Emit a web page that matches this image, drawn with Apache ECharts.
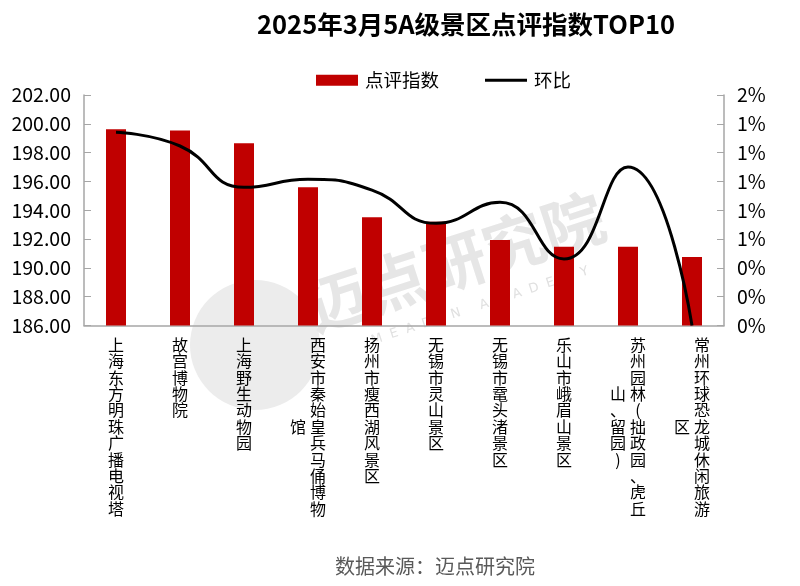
<!DOCTYPE html>
<html>
<head>
<meta charset="utf-8">
<script src="https://cdn.jsdelivr.net/npm/echarts@6/dist/echarts.min.js"></script>
<style>
html,body{margin:0;padding:0;background:#fff;}
#chart{width:800px;height:586px;}
</style>
</head>
<body>
<div id="chart"></div>
<script>
var categories = ['上海东方明珠广播电视塔','故宫博物院','上海野生动物园','西安市秦始皇兵马俑博物馆','扬州市瘦西湖风景区','无锡市灵山景区','无锡市鼋头渚景区','乐山市峨眉山景区','苏州园林(拙政园、虎丘山、留园)','常州环球恐龙城休闲旅游区'];
var indexValues = [199.62, 199.53, 198.65, 195.60, 193.51, 193.20, 191.94, 191.47, 191.47, 190.76];
var momValues = [0.01341, 0.01246, 0.00959, 0.01015, 0.00940, 0.00709, 0.00855, 0.00462, 0.01100, 0.00000];
var leftTicks = {min: 186, max: 202, interval: 2};
var rightTicks = {min: 0, max: 0.016, interval: 0.002};

var FONT = '"Noto Sans CJK SC", "Noto Sans", sans-serif';
var COL = 11;

function verticalLabel(name) {
  var chars = Array.from(name);
  var main = chars.slice(0, COL);
  var rest = chars.slice(COL);
  var off = Math.floor((main.length - rest.length) / 2);
  var rows = [];
  for (var i = 0; i < main.length; i++) {
    var row = '';
    if (rest.length) {
      var j = i - off;
      row += (j >= 0 && j < rest.length) ? '{c|' + rest[j] + '}' : '{c|\u3000}';
    }
    row += '{c|' + main[i] + '}';
    rows.push(row);
  }
  return rows.join('\n');
}

var chart = echarts.init(document.getElementById('chart'));
chart.setOption({
  animation: false,
  backgroundColor: '#fff',
  title: {
    text: '2025年3月5A级景区点评指数TOP10',
    left: 461, top: 7, textAlign: 'center',
    textStyle: {fontFamily: FONT, fontSize: 25.5, fontWeight: 'bold', color: '#000'}
  },
  legend: {
    top: 66, left: 311,
    itemGap: 46,
    itemWidth: 42, itemHeight: 11,
    textStyle: {fontFamily: FONT, fontSize: 18.5, color: '#000', padding: [0,0,0,2]},
    data: [
      {name: '点评指数', icon: 'rect'},
      {name: '环比', icon: 'path://M0,0 L40,0 L40,3 L0,3 Z', itemStyle: {color: '#000'}}
    ]
  },
  graphic: [
    {type: 'circle', shape: {cx: 255, cy: 345, r: 65}, style: {fill: '#ececec'}, z: -10, silent: true},
    {type: 'text', x: 455, y: 262, rotation: 18 * Math.PI / 180,
     style: {text: '迈点研究院', fontFamily: FONT, fontSize: 62, fontWeight: 'bold', fill: '#e6e6e6', align: 'center', verticalAlign: 'middle'}, z: -10, silent: true},
    {type: 'text', x: 480, y: 306, rotation: 18 * Math.PI / 180,
     style: {text: 'M  E  A  D  I  N     A  C  A  D  E  M  Y', fontFamily: 'DejaVu Sans', fontSize: 13, fill: '#e0e0e0', align: 'center', verticalAlign: 'middle'}, z: -10, silent: true},
    {type: 'text', x: 435, y: 566,
     style: {text: '数据来源：迈点研究院', fontFamily: FONT, fontSize: 20, fill: '#595959', align: 'center', verticalAlign: 'middle'}}
  ],
  grid: {left: 84, right: 76, top: 95, bottom: 260.5, containLabel: false},
  xAxis: {
    type: 'category',
    data: categories,
    axisLine: {lineStyle: {color: '#a6a6a6', width: 1.5}},
    axisTick: {inside: true, length: 5, lineStyle: {color: '#a6a6a6'}},
    axisLabel: {
      interval: 0, margin: 11, color: '#000',
      formatter: verticalLabel,
      rich: {c: {fontFamily: FONT, fontSize: 16, lineHeight: 16.4, width: 20, align: 'center', color: '#000'}}
    }
  },
  yAxis: [
    {
      type: 'value', min: leftTicks.min, max: leftTicks.max, interval: leftTicks.interval,
      splitLine: {show: false},
      axisLine: {show: true, lineStyle: {color: '#a6a6a6', width: 1.5}},
      axisTick: {show: true, inside: true, length: 7, lineStyle: {color: '#a6a6a6'}},
      axisLabel: {fontFamily: FONT, fontSize: 19.5, color: '#000', margin: 13,
        formatter: function (v) { return v.toFixed(2); }}
    },
    {
      type: 'value', min: rightTicks.min, max: rightTicks.max, interval: rightTicks.interval,
      splitLine: {show: false},
      axisLine: {show: true, lineStyle: {color: '#a6a6a6', width: 1.5}},
      axisTick: {show: true, inside: true, length: 7, lineStyle: {color: '#a6a6a6'}},
      axisLabel: {fontFamily: FONT, fontSize: 19.5, color: '#000', margin: 13,
        formatter: function (v) { return Math.round(v * 100) + '%'; }}
    }
  ],
  series: [
    {name: '点评指数', type: 'bar', data: indexValues, barWidth: 20, itemStyle: {color: '#c00000'}, yAxisIndex: 0},
    {name: '环比', type: 'line', data: momValues, yAxisIndex: 1, smooth: 0.5, showSymbol: false, symbol: 'none',
     lineStyle: {color: '#000', width: 3}, itemStyle: {color: '#000'}, clip: true}
  ]
});
</script>
</body>
</html>
